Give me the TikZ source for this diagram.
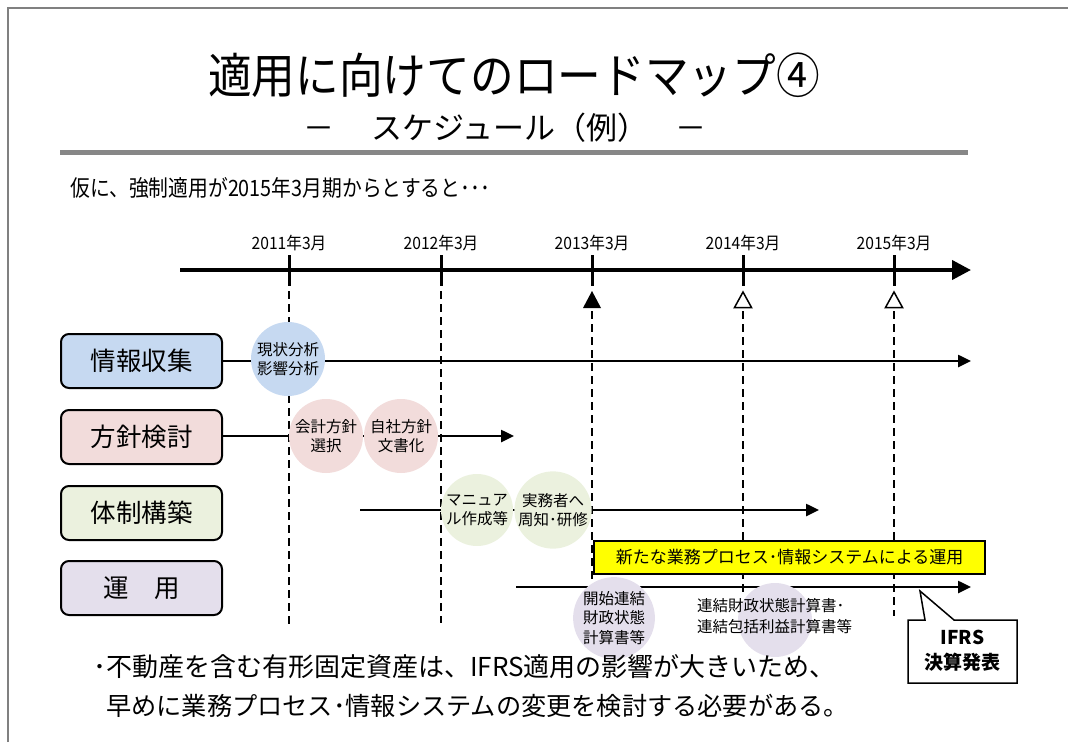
\documentclass[tikz,border=0pt]{standalone}
\usepackage{fontspec}
\setmainfont{Noto Sans CJK JP}
\usetikzlibrary{arrows.meta}
\definecolor{frameg}{HTML}{808080}
\definecolor{ruleg}{HTML}{878787}
\definecolor{cblue}{HTML}{C6D9F1}
\definecolor{cpink}{HTML}{F2DCDB}
\definecolor{cgreen}{HTML}{EBF1DE}
\definecolor{cpurple}{HTML}{E4DFEC}
\definecolor{cyell}{HTML}{FFFF00}
\tikzset{
  rowbox/.style={draw=black, line width=2pt, rounded corners=8pt, minimum width=161pt, minimum height=54pt, inner sep=0pt, font=\fontsize{25.5}{28}\selectfont},
  bub/.style={circle, minimum size=74pt, inner sep=0pt, align=center, font=\fontsize{15.5}{19}\selectfont},
  rowline/.style={line width=2.5pt, -{Triangle[length=13pt,width=12pt]}},
  vdash/.style={line width=1.5pt, dash pattern=on 8pt off 5pt},
  tick/.style={line width=3pt},
  ylab/.style={font=\fontsize{17}{19}\selectfont, inner sep=0pt},
}
\begin{document}
\begin{tikzpicture}[x=1pt,y=-1pt]
\useasboundingbox (0,0) rectangle (1068,742);
% frame
\draw[frameg, line width=2pt] (7.5,742) -- (7.5,7.5) -- (1068,7.5);
% title
\node[inner sep=0pt] (title) at (514,75) {\fontsize{48}{52}\selectfont\scalebox{0.91}[1]{適用に向けてのロードマップ④}};
\node[inner sep=0pt] (subtitle) at (505,128) {\fontsize{31}{34}\selectfont －\hspace{1.2em}スケジュール（例）\hspace{0.9em}－};
\coordinate (rl) at (60,152);
\coordinate (rr) at (968,152);
\draw[ruleg, line width=5pt] (rl) -- (rr);
\node[inner sep=0pt, anchor=west] (intro) at (70,188) {\fontsize{22.5}{24}\selectfont\scalebox{0.88}[1]{仮に、強制適用が2015年3月期からとすると･･･}};
% timeline
\coordinate (tls) at (180,270);
\coordinate (tle) at (971,270);
\draw[line width=4pt, -{Triangle[length=19pt,width=19pt]}] (tls) -- (tle);
\foreach \x/\yr [count=\i] in {289/2011,441/2012,592/2013,743/2014,894/2015}{
  \coordinate (t\i) at (\x,270);
  \draw[tick] (\x,255) -- (\x,286);
  \node[ylab] (lab\i) at (\x,243) {\scalebox{0.92}[1]{\yr 年3月}};
}
% markers
\fill[black] (583,308) -- (601,308) -- (592,291) -- cycle;
\draw[black, line width=1.5pt] (734.5,307.5) -- (751.5,307.5) -- (743,292) -- cycle;
\draw[black, line width=1.5pt] (885.5,307.5) -- (902.5,307.5) -- (894,292) -- cycle;
% dashed verticals
\draw[vdash] (289,291) -- (289,625);
\draw[vdash] (441,291) -- (441,623);
\draw[vdash] (592,311) -- (592,580);
\draw[vdash] (743,311) -- (743,592);
\draw[vdash] (894,311) -- (894,616);
% row boxes
\node[rowbox, fill=cblue] (r1) at (141.5,361) {情報収集};
\node[rowbox, fill=cpink] (r2) at (141.5,437) {方針検討};
\node[rowbox, fill=cgreen] (r3) at (141.5,513) {体制構築};
\node[rowbox, fill=cpurple] (r4) at (141.5,588) {運　用};
% row lines
\coordinate (e1) at (971,361);
\coordinate (e2) at (514,436);
\coordinate (s3) at (360,510);
\coordinate (e3) at (819,510);
\coordinate (s4) at (516,587);
\coordinate (e4) at (971,587);
\draw[rowline] (r1.east |- e1) -- (e1);
\draw[rowline] (r2.east |- e2) -- (e2);
\draw[rowline] (s3) -- (e3);
\draw[rowline] (s4) -- (e4);
% yellow box
\node[draw=black, line width=1.5pt, fill=cyell, minimum width=391pt, minimum height=33pt, inner sep=0pt, font=\fontsize{17}{19}\selectfont] (ops) at (789.5,557.5) {新たな業務プロセス･情報システムによる運用};
% bubbles
\node[bub, fill=cblue] (b1) at (288,359) {現状分析\\影響分析};
\node[bub, fill=cpink] (b2) at (326,436) {会計方針\\選択};
\node[bub, fill=cpink] (b3) at (401,436) {自社方針\\文書化};
\node[bub, fill=cgreen, minimum size=72pt] (b4) at (477,510) {マニュア\\ル作成等};
\node[bub, fill=cgreen, minimum size=72pt] (b5) at (553,510) {実務者へ\\周知･研修};
\node[bub, fill=cpurple, font=\fontsize{15.5}{19.5}\selectfont] (b6) at (614,618) {開始連結\\財政状態\\計算書等};
\node[bub, fill=cpurple] (b7) at (775,620) {};
\node[inner sep=0pt, anchor=west, align=left, font=\fontsize{15.5}{21}\selectfont] (b7t) at (697,616) {連結財政状態計算書･\\連結包括利益計算書等};
% IFRS callout
\coordinate (ptip) at (920,591);
\draw[black, line width=1.5pt, fill=white, line join=miter] (908,620) -- (925,620) -- (ptip) -- (954,620) -- (1017,620) -- (1017,683) -- (908,683) -- cycle;
\node[inner sep=0pt, align=center, font=\fontsize{19}{25}\selectfont\bfseries] (ifrs) at (962.5,651) {IFRS\\決算発表};
% bottom text
\node[inner sep=0pt, anchor=west, font=\fontsize{26}{28}\selectfont] (n1) at (93,667) {･不動産を含む有形固定資産は、IFRS適用の影響が大きいため、};
\node[inner sep=0pt, anchor=west, font=\fontsize{25.2}{28}\selectfont] (n2) at (106,706) {早めに業務プロセス･情報システムの変更を検討する必要がある。};
\end{tikzpicture}
\end{document}
